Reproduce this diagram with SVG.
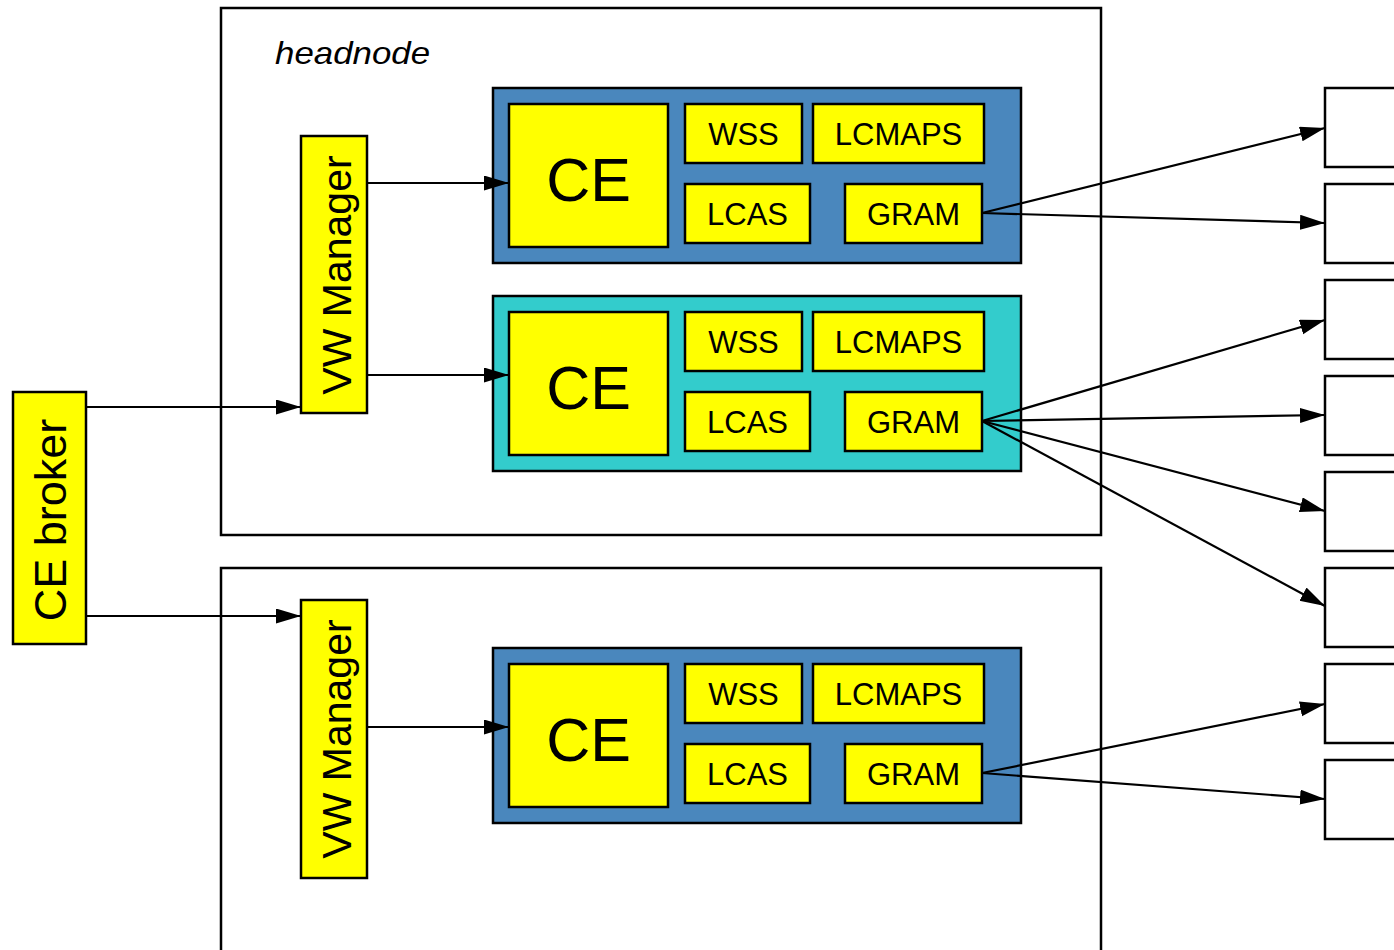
<svg xmlns="http://www.w3.org/2000/svg" width="1394" height="950" viewBox="0 0 1394 950">
  <style>
    .frame { fill: #ffffff; stroke: #000000; stroke-width: 2.5; }
    .blue { fill: #4a87bd; stroke: #000000; stroke-width: 2.5; }
    .cyan { fill: #33cccc; stroke: #000000; stroke-width: 2.5; }
    .yellow { fill: #ffff00; stroke: #000000; stroke-width: 2.5; }
    .out { fill: #ffffff; stroke: #000000; stroke-width: 2.5; }
    text { font-family: "Liberation Sans", Arial, sans-serif; fill: #000000; }
    .big { font-size: 61px; text-anchor: middle; }
    .mod { font-size: 31px; text-anchor: middle; }
    .vert { font-size: 45px; text-anchor: middle; }
    .vw { font-size: 41px; text-anchor: middle; }
    .title { font-size: 32px; font-style: italic; }
    .conn { fill: none; stroke: #000000; stroke-width: 2.2; marker-end: url(#arrow); }
  </style>
  <defs>
    <marker id="arrow" markerUnits="userSpaceOnUse" markerWidth="26" markerHeight="16" refX="25" refY="7.5" orient="auto">
      <path d="M0,0 L25,7.5 L0,15 z" fill="#000000"/>
    </marker>
  </defs>

  <!-- host frames -->
  <g id="headnode">
    <rect class="frame" x="221" y="8" width="880" height="527"/>
    <text class="title" x="275" y="64" textLength="155" lengthAdjust="spacingAndGlyphs">headnode</text>
  </g>
  <g id="host2">
    <rect class="frame" x="221" y="568" width="880" height="400"/>
  </g>

  <!-- broker and managers -->
  <g id="ce-broker">
    <rect class="yellow" x="13" y="392" width="73" height="252"/>
    <text class="vert" transform="translate(66,520) rotate(-90)">CE broker</text>
  </g>
  <g id="vw-manager-1">
    <rect class="yellow" x="301" y="136" width="66" height="277"/>
    <text class="vw" transform="translate(351,275) rotate(-90)">VW Manager</text>
  </g>
  <g id="vw-manager-2">
    <rect class="yellow" x="301" y="600" width="66" height="278"/>
    <text class="vw" transform="translate(351,739) rotate(-90)">VW Manager</text>
  </g>

  <!-- CE stacks -->
  <g id="ce-stack-1" transform="translate(493,88)">
    <rect class="blue" x="0" y="0" width="528" height="175"/>
    <rect class="yellow" x="16" y="16" width="159" height="143"/>
    <text class="big" x="95.5" y="113">CE</text>
    <rect class="yellow" x="192" y="16" width="117" height="59"/>
    <text class="mod" x="250.5" y="57">WSS</text>
    <rect class="yellow" x="320" y="16" width="171" height="59"/>
    <text class="mod" x="405.5" y="57">LCMAPS</text>
    <rect class="yellow" x="192" y="96" width="125" height="59"/>
    <text class="mod" x="254.5" y="137">LCAS</text>
    <rect class="yellow" x="352" y="96" width="137" height="59"/>
    <text class="mod" x="420.5" y="137">GRAM</text>
  </g>
  <g id="ce-stack-2" transform="translate(493,296)">
    <rect class="cyan" x="0" y="0" width="528" height="175"/>
    <rect class="yellow" x="16" y="16" width="159" height="143"/>
    <text class="big" x="95.5" y="113">CE</text>
    <rect class="yellow" x="192" y="16" width="117" height="59"/>
    <text class="mod" x="250.5" y="57">WSS</text>
    <rect class="yellow" x="320" y="16" width="171" height="59"/>
    <text class="mod" x="405.5" y="57">LCMAPS</text>
    <rect class="yellow" x="192" y="96" width="125" height="59"/>
    <text class="mod" x="254.5" y="137">LCAS</text>
    <rect class="yellow" x="352" y="96" width="137" height="59"/>
    <text class="mod" x="420.5" y="137">GRAM</text>
  </g>
  <g id="ce-stack-3" transform="translate(493,648)">
    <rect class="blue" x="0" y="0" width="528" height="175"/>
    <rect class="yellow" x="16" y="16" width="159" height="143"/>
    <text class="big" x="95.5" y="113">CE</text>
    <rect class="yellow" x="192" y="16" width="117" height="59"/>
    <text class="mod" x="250.5" y="57">WSS</text>
    <rect class="yellow" x="320" y="16" width="171" height="59"/>
    <text class="mod" x="405.5" y="57">LCMAPS</text>
    <rect class="yellow" x="192" y="96" width="125" height="59"/>
    <text class="mod" x="254.5" y="137">LCAS</text>
    <rect class="yellow" x="352" y="96" width="137" height="59"/>
    <text class="mod" x="420.5" y="137">GRAM</text>
  </g>

  <!-- worker nodes -->
  <g id="worker-1"><rect class="out" x="1325" y="88" width="90" height="79"/></g>
  <g id="worker-2"><rect class="out" x="1325" y="184" width="90" height="79"/></g>
  <g id="worker-3"><rect class="out" x="1325" y="280" width="90" height="79"/></g>
  <g id="worker-4"><rect class="out" x="1325" y="376" width="90" height="79"/></g>
  <g id="worker-5"><rect class="out" x="1325" y="472" width="90" height="79"/></g>
  <g id="worker-6"><rect class="out" x="1325" y="568" width="90" height="79"/></g>
  <g id="worker-7"><rect class="out" x="1325" y="664" width="90" height="79"/></g>
  <g id="worker-8"><rect class="out" x="1325" y="760" width="90" height="79"/></g>

  <!-- connectors -->
  <g id="connectors">
    <line class="conn" x1="86" y1="407" x2="301" y2="407"/>
    <line class="conn" x1="86" y1="616" x2="301" y2="616"/>
    <line class="conn" x1="367" y1="183" x2="509" y2="183"/>
    <line class="conn" x1="367" y1="375" x2="509" y2="375"/>
    <line class="conn" x1="367" y1="727" x2="509" y2="727"/>
    <line class="conn" x1="982" y1="213" x2="1325" y2="128"/>
    <line class="conn" x1="982" y1="213" x2="1325" y2="223"/>
    <line class="conn" x1="982" y1="421" x2="1325" y2="320"/>
    <line class="conn" x1="982" y1="421" x2="1325" y2="415"/>
    <line class="conn" x1="982" y1="421" x2="1325" y2="511"/>
    <line class="conn" x1="982" y1="421" x2="1325" y2="606"/>
    <line class="conn" x1="982" y1="773" x2="1325" y2="704"/>
    <line class="conn" x1="982" y1="773" x2="1325" y2="799"/>
  </g>
</svg>
